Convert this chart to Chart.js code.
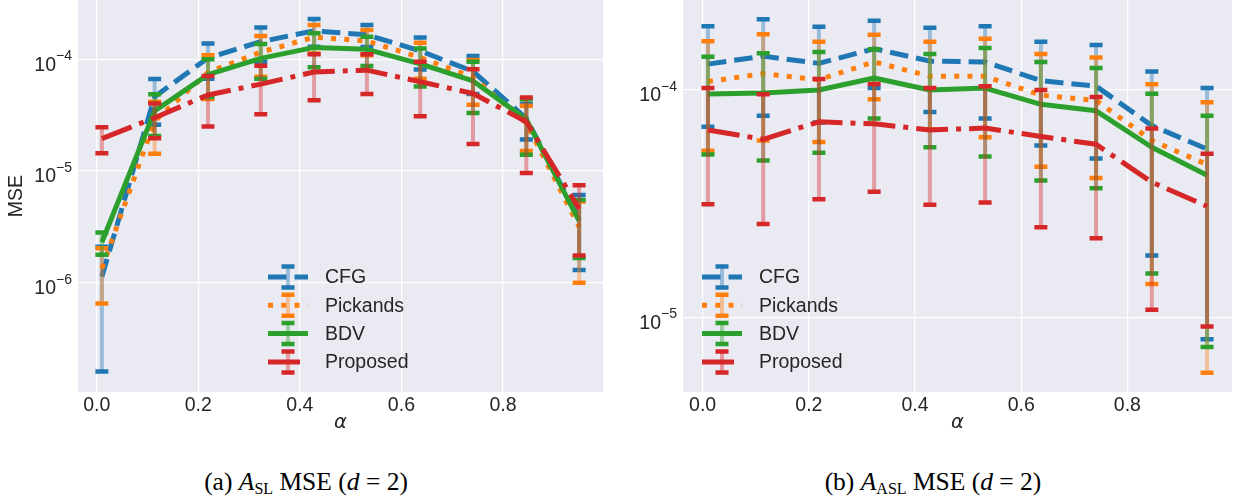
<!DOCTYPE html>
<html><head><meta charset="utf-8">
<script src="https://cdn.jsdelivr.net/npm/chart.js@4"></script>
<style>
html,body{margin:0;padding:0;background:#fff;}
body{width:1236px;height:500px;position:relative;overflow:hidden;}
.panel{position:absolute;top:0;}
.cap{position:absolute;top:469px;font-family:"Liberation Serif","Times New Roman",serif;font-size:25.5px;line-height:1;color:#000;white-space:nowrap;transform:translateX(-50%);}
.cap sub{font-size:16px;line-height:0;vertical-align:-4px;}
</style></head>
<body>
<div class="panel" style="left:0;width:620px;height:437px"><canvas id="c1" width="620" height="437"></canvas></div>
<div class="panel" style="left:620px;width:616px;height:437px"><canvas id="c2" width="616" height="437"></canvas></div>
<div class="cap" style="left:306px">(a) <i>A</i><sub>SL</sub> MSE (<i>d</i> = 2)</div>
<div class="cap" style="left:933px">(b) <i>A</i><sub>ASL</sub> MSE (<i>d</i> = 2)</div>
<script>
// ---------- data ----------
const alphaValues = [0.01, 0.114, 0.219, 0.323, 0.428, 0.532, 0.637, 0.741, 0.846, 0.95];
const seriesNames = ['CFG', 'Pickands', 'BDV', 'Proposed'];
const xTickValues = [0, 0.2, 0.4, 0.6, 0.8];

// (a) A_SL : mean MSE and standard deviation
const slCFG      = [1.13e-6, 4.63e-5, 1.03e-4, 1.44e-4, 1.80e-4, 1.66e-4, 1.19e-4, 7.8e-5, 2.95e-5, 3.7e-6];
const slCFGErr   = [9.7e-7, 2.03e-5, 3.6e-5, 4.9e-5, 5.0e-5, 3.7e-5, 3.8e-5, 2.9e-5, 1.03e-5, 2.4e-6];
const slPick     = [1.34e-6, 2.8e-5, 7.66e-5, 1.16e-4, 1.58e-4, 1.46e-4, 1.04e-4, 6.9e-5, 2.68e-5, 3.17e-6];
const slPickErr  = [6.9e-7, 1.37e-5, 3.24e-5, 4.6e-5, 4.5e-5, 3.7e-5, 3.7e-5, 2.97e-5, 1.17e-5, 2.17e-6];
const slBDV      = [2.3e-6, 3.46e-5, 7.3e-5, 1.02e-4, 1.28e-4, 1.23e-4, 9.1e-5, 6.4e-5, 2.9e-5, 3.58e-6];
const slBDVErr   = [5.2e-7, 1.4e-5, 2.7e-5, 3.5e-5, 4.3e-5, 3.6e-5, 3.4e-5, 3.1e-5, 1.5e-5, 1.92e-6];
const slProp     = [1.95e-5, 3.0e-5, 4.8e-5, 6.0e-5, 7.7e-5, 8.0e-5, 6.3e-5, 4.95e-5, 2.76e-5, 4.6e-6];
const slPropErr  = [5.1e-6, 1.03e-5, 2.3e-5, 2.77e-5, 3.4e-5, 3.1e-5, 3.2e-5, 3.2e-5, 1.8e-5, 2.85e-6];
const slYTicks   = [1e-6, 1e-5, 1e-4];

// (b) A_ASL : mean MSE and standard deviation
const aslCFG     = [1.30e-4, 1.41e-4, 1.31e-4, 1.52e-4, 1.34e-4, 1.33e-4, 1.10e-4, 1.04e-4, 6.97e-5, 5.5e-5];
const aslCFGErr  = [6.1e-5, 6.4e-5, 5.9e-5, 5.0e-5, 5.4e-5, 5.8e-5, 5.3e-5, 5.4e-5, 5.1e-5, 4.7e-5];
const aslPick    = [1.09e-4, 1.18e-4, 1.11e-4, 1.33e-4, 1.15e-4, 1.15e-4, 9.5e-5, 9.0e-5, 6.0e-5, 4.7e-5];
const aslPickErr = [5.5e-5, 5.8e-5, 5.2e-5, 4.2e-5, 4.8e-5, 5.3e-5, 4.9e-5, 4.9e-5, 4.6e-5, 4.13e-5];
const aslBDV     = [9.6e-5, 9.7e-5, 1.0e-4, 1.13e-4, 1.0e-4, 1.02e-4, 8.65e-5, 8.1e-5, 5.6e-5, 4.22e-5];
const aslBDVErr  = [4.4e-5, 4.8e-5, 4.7e-5, 3.8e-5, 4.4e-5, 5.1e-5, 4.65e-5, 4.4e-5, 4.04e-5, 3.48e-5];
const aslProp    = [6.67e-5, 6.07e-5, 7.25e-5, 7.1e-5, 6.67e-5, 6.8e-5, 6.25e-5, 5.77e-5, 3.93e-5, 3.08e-5];
const aslPropErr = [3.53e-5, 3.5e-5, 3.94e-5, 3.53e-5, 3.54e-5, 3.6e-5, 3.76e-5, 3.54e-5, 2.85e-5, 2.17e-5];
const aslYTicks  = [1e-5, 1e-4];

// ---------- styling ----------
const colors = ['#1f77b4', '#ff7f0e', '#2ca02c', '#d62728'];
const barColors = ['rgba(31,119,180,0.4)', 'rgba(255,127,14,0.4)', 'rgba(44,160,44,0.4)', 'rgba(214,39,40,0.4)'];
const dashes = [[18.5, 8], [5, 8.25], [], [32, 8, 5, 8]];
const TXT = '#262626';
const FONT = '"Liberation Sans", Arial, sans-serif';
Chart.defaults.font.family = FONT;
Chart.defaults.color = TXT;

function buildDatasets(means, errs) {
  return seriesNames.map((name, k) => ({
    label: name,
    data: alphaValues.map((a, i) => ({x: a, y: means[k][i]})),
    errors: errs[k],
    barColor: barColors[k],
    borderColor: colors[k],
    backgroundColor: colors[k],
    borderWidth: 5,
    borderDash: dashes[k],
    borderCapStyle: 'butt',
    borderJoinStyle: 'round',
    pointRadius: 0,
    pointHoverRadius: 0,
    tension: 0,
    fill: false,
    order: 4 - k
  }));
}

const bgPlugin = {
  id: 'plotBg',
  beforeDraw(chart) {
    const {ctx, chartArea: a} = chart;
    ctx.save();
    ctx.fillStyle = '#EAEAF2';
    ctx.fillRect(a.left, a.top, a.right - a.left, a.bottom - a.top);
    ctx.restore();
  }
};

const errorBarPlugin = {
  id: 'errorBars',
  beforeDatasetDraw(chart, args) {
    const ds = chart.data.datasets[args.index];
    if (!ds.errors) return;
    const {ctx, chartArea: a, scales: {x, y}} = chart;
    ctx.save();
    ctx.beginPath();
    ctx.rect(a.left, a.top, a.right - a.left, a.bottom - a.top);
    ctx.clip();
    ds.data.forEach((p, i) => {
      const e = ds.errors[i];
      const px = x.getPixelForValue(p.x);
      const yHi = y.getPixelForValue(p.y + e);
      const lo = p.y - e;
      const yLo = lo > 0 ? y.getPixelForValue(lo) : a.bottom + 10;
      ctx.setLineDash([]);
      ctx.lineCap = 'butt';
      ctx.strokeStyle = ds.barColor;
      ctx.lineWidth = 4;
      ctx.beginPath(); ctx.moveTo(px, yHi); ctx.lineTo(px, yLo); ctx.stroke();
      ctx.strokeStyle = ds.borderColor;
      ctx.lineWidth = 4.5;
      ctx.beginPath();
      ctx.moveTo(px - 6.5, yHi); ctx.lineTo(px + 6.5, yHi);
      ctx.moveTo(px - 6.5, yLo); ctx.lineTo(px + 6.5, yLo);
      ctx.stroke();
    });
    ctx.restore();
  }
};

// y tick labels as 10 with a raised exponent (mathtext style)
const powTickPlugin = {
  id: 'powTicks',
  afterDraw(chart) {
    const {ctx, chartArea: a, scales: {y}} = chart;
    ctx.save();
    ctx.fillStyle = TXT;
    ctx.textBaseline = 'alphabetic';
    ctx.textAlign = 'left';
    y.ticks.forEach(t => {
      const py = y.getPixelForValue(t.value);
      const e = Math.round(Math.log10(t.value));
      const base = '10';
      const sup = (e < 0 ? '\u2212' : '') + Math.abs(e);
      ctx.font = '19.5px ' + FONT;
      const wb = ctx.measureText(base).width;
      ctx.font = '14px ' + FONT;
      const ws = ctx.measureText(sup).width;
      const x0 = a.left - 6 - wb - ws;
      ctx.font = '19.5px ' + FONT;
      ctx.fillText(base, x0, py + 11.4);
      ctx.font = '14px ' + FONT;
      ctx.fillText(sup, x0 + wb, py + 1);
    });
    ctx.restore();
  }
};

const legendPlugin = {
  id: 'errLegend',
  afterDraw(chart, args, opts) {
    const {ctx, chartArea: a} = chart;
    const x0 = a.left + opts.offsetX;
    const rows = [277, 305.3, 333.6, 362];
    chart.data.datasets.forEach((ds, i) => {
      const y = a.top + rows[i];
      const cx = x0 + 20;
      ctx.save();
      ctx.strokeStyle = ds.borderColor;
      ctx.lineWidth = 5;
      ctx.lineCap = 'butt';
      ctx.setLineDash(ds.borderDash || []);
      ctx.beginPath(); ctx.moveTo(x0, y); ctx.lineTo(x0 + 40, y); ctx.stroke();
      ctx.setLineDash([]);
      ctx.strokeStyle = ds.barColor;
      ctx.lineWidth = 4;
      ctx.beginPath(); ctx.moveTo(cx, y - 10.5); ctx.lineTo(cx, y + 10.5); ctx.stroke();
      ctx.strokeStyle = ds.borderColor;
      ctx.lineWidth = 4.5;
      ctx.beginPath();
      ctx.moveTo(cx - 6.5, y - 10.5); ctx.lineTo(cx + 6.5, y - 10.5);
      ctx.moveTo(cx - 6.5, y + 10.5); ctx.lineTo(cx + 6.5, y + 10.5);
      ctx.stroke();
      ctx.fillStyle = TXT;
      ctx.font = '19.5px ' + FONT;
      ctx.textBaseline = 'middle';
      ctx.textAlign = 'left';
      ctx.fillText(ds.label, x0 + 57, y + 1);
      ctx.restore();
    });
  }
};

function makeChart(id, means, errs, yMin, yMax, yTicks, yAxisWidth, padRight, yTitle, legendX) {
  const canvas = document.getElementById(id);
  const H = canvas.height;
  return new Chart(canvas, {
    type: 'line',
    data: {datasets: buildDatasets(means, errs)},
    options: {
      responsive: false,
      animation: false,
      events: [],
      layout: {padding: {left: 0, right: padRight, top: 0, bottom: 0}},
      plugins: {legend: {display: false}, tooltip: {enabled: false}, errLegend: {offsetX: legendX}},
      scales: {
        x: {
          type: 'linear', min: -0.037, max: 0.997,
          afterBuildTicks: s => { s.ticks = xTickValues.map(v => ({value: v})); },
          afterFit: s => { s.height = H - 392; s.paddingLeft = 0; s.paddingRight = 0; },
          ticks: {callback: v => v.toFixed(1), font: {size: 19.5}, color: TXT, padding: 2, maxRotation: 0, autoSkip: false},
          grid: {color: '#ffffff', lineWidth: 1.25, drawTicks: false},
          border: {display: false},
          title: {display: true, text: '\u03B1', font: {family: '"DejaVu Sans", sans-serif', style: 'italic', size: 19.5}, color: TXT, padding: {top: 0, bottom: 2}}
        },
        y: {
          type: 'logarithmic', min: yMin, max: yMax,
          afterBuildTicks: s => { s.ticks = yTicks.map(v => ({value: v})); },
          afterFit: s => { s.width = yAxisWidth; s.paddingTop = 0; s.paddingBottom = 0; },
          ticks: {display: false, autoSkip: false},
          grid: {color: '#ffffff', lineWidth: 1.25, drawTicks: false},
          border: {display: false},
          title: {display: !!yTitle, text: yTitle, font: {size: 19.5}, color: TXT, padding: {top: 5, bottom: 0}}
        }
      }
    },
    plugins: [bgPlugin, errorBarPlugin, powTickPlugin, legendPlugin]
  });
}

makeChart('c1', [slCFG, slPick, slBDV, slProp], [slCFGErr, slPickErr, slBDVErr, slPropErr],
  1.05e-7, 3.4e-4, slYTicks, 78, 17, 'MSE', 190);
makeChart('c2', [aslCFG, aslPick, aslBDV, aslProp], [aslCFGErr, aslPickErr, aslBDVErr, aslPropErr],
  4.69e-6, 2.49e-4, aslYTicks, 63, 4, '', 19);
</script>
</body></html>
